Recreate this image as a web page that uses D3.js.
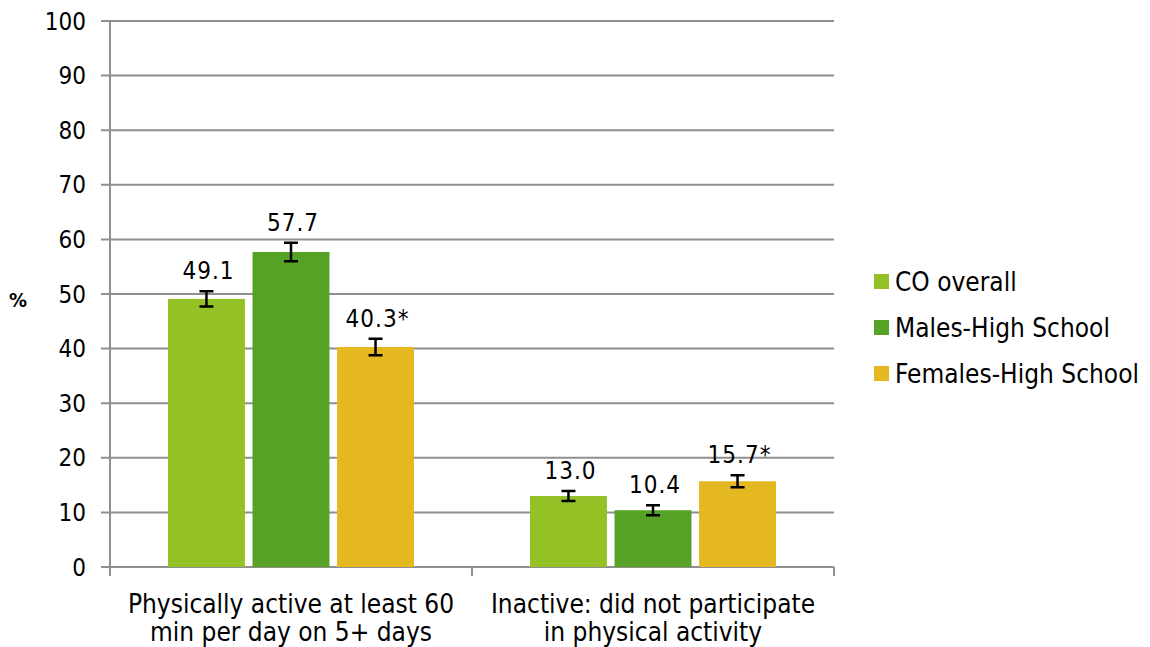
<!DOCTYPE html>
<html>
<head>
<meta charset="utf-8">
<script src="https://cdn.jsdelivr.net/npm/d3@7"></script>
<style>
  body { margin: 0; background: #fff; }
  text { font-family: "DejaVu Sans Condensed", "DejaVu Sans", sans-serif; fill: #000; }
</style>
</head>
<body>
<div id="chartDiv"></div>
<script>
// data
var categories = [["Physically active at least 60", "min per day on 5+ days"],
                  ["Inactive: did not participate", "in physical activity"]];
var series = ["CO overall", "Males-High School", "Females-High School"];
var values = [[49.1, 57.7, 40.3], [13.0, 10.4, 15.7]];
var errors = [[1.4, 1.7, 1.5], [0.9, 0.9, 1.1]];
var labels = [["49.1", "57.7", "40.3*"], ["13.0", "10.4", "15.7*"]];
var yTicks = [0, 10, 20, 30, 40, 50, 60, 70, 80, 90, 100];
var colors = ["#93c126", "#56a224", "#e5b720"];

var svg = d3.select("#chartDiv").append("svg")
    .attr("width", 1150)
    .attr("height", 647);

var margin = {top: 21, left: 110, right: 834, bottom: 567};

var x0 = d3.scaleBand()
    .domain(d3.range(categories.length))
    .range([margin.left, margin.right])
    .paddingInner(0).paddingOuter(0);

var x1 = d3.scaleBand()
    .domain(d3.range(series.length))
    .range([58, x0.bandwidth() - 58])
    .paddingInner(0.09);

var y = d3.scaleLinear()
    .domain([0, 100])
    .range([margin.bottom, margin.top]);

var gridColor = "#8f8f8f";

// gridlines
svg.append("g").selectAll("line").data(yTicks).enter()
    .append("line")
    .attr("x1", margin.left - 9)
    .attr("x2", margin.right)
    .attr("y1", function(d){ return y(d); })
    .attr("y2", function(d){ return y(d); })
    .style("stroke", gridColor)
    .style("stroke-width", 2);

// y axis line
svg.append("line")
    .attr("x1", margin.left).attr("x2", margin.left)
    .attr("y1", y(100)).attr("y2", y(0))
    .style("stroke", gridColor).style("stroke-width", 2);

// x axis ticks
var xTickPos = d3.range(categories.length + 1).map(function(i){ return margin.left + i * x0.bandwidth(); });
svg.append("g").selectAll("line").data(xTickPos).enter()
    .append("line")
    .attr("x1", function(d){ return d; })
    .attr("x2", function(d){ return d; })
    .attr("y1", y(0)).attr("y2", y(0) + 9)
    .style("stroke", gridColor).style("stroke-width", 2);

// y tick labels
svg.append("g").selectAll("text").data(yTicks).enter()
    .append("text")
    .attr("x", margin.left - 24)
    .attr("y", function(d){ return y(d); })
    .attr("dy", "0.36em")
    .attr("text-anchor", "end")
    .style("font-size", "24px")
    .text(function(d){ return d; });

svg.append("text")
    .attr("x", 18).attr("y", 300)
    .attr("dy", "0.36em")
    .attr("text-anchor", "middle")
    .style("font-size", "20px")
    .style("font-weight", "bold")
    .text("%");

// bars
var groups = svg.append("g").selectAll("g").data(values).enter()
    .append("g")
    .attr("transform", function(d, i){ return "translate(" + x0(i) + ",0)"; });

groups.selectAll("rect").data(function(d){ return d; }).enter()
    .append("rect")
    .attr("x", function(d, j){ return x1(j); })
    .attr("y", function(d){ return y(d); })
    .attr("width", x1.bandwidth())
    .attr("height", function(d){ return y(0) - y(d); })
    .attr("fill", function(d, j){ return colors[j]; });

// error bars
groups.each(function(d, i){
  var g = d3.select(this);
  d.forEach(function(v, j){
    var cx = x1(j) + x1.bandwidth() / 2;
    var e = errors[i][j];
    g.append("path")
      .attr("d", "M" + (cx - 7) + "," + y(v + e) + "H" + (cx + 7) +
                 "M" + cx + "," + y(v + e) + "V" + y(v - e) +
                 "M" + (cx - 7) + "," + y(v - e) + "H" + (cx + 7))
      .style("stroke", "#000").style("stroke-width", 2.5).style("fill", "none");
    g.append("text")
      .attr("x", cx + 2)
      .attr("y", y(v + e) - 12)
      .attr("text-anchor", "middle")
      .style("font-size", "24px")
      .style("letter-spacing", "1px")
      .text(labels[i][j]);
  });
});

// category labels
svg.append("g").selectAll("text").data(categories).enter()
    .append("text")
    .attr("x", function(d, i){ return x0(i) + x0.bandwidth() / 2; })
    .attr("y", 613)
    .attr("text-anchor", "middle")
    .style("font-size", "26px")
    .each(function(d){
      var t = d3.select(this);
      d.forEach(function(line, k){
        t.append("tspan")
          .attr("x", t.attr("x"))
          .attr("dy", k === 0 ? 0 : 28)
          .text(line);
      });
    });

// legend
var legend = svg.append("g").selectAll("g").data(series).enter()
    .append("g")
    .attr("transform", function(d, i){ return "translate(874," + (282 + i * 46) + ")"; });

legend.append("rect")
    .attr("x", 0).attr("y", -8)
    .attr("width", 15).attr("height", 15)
    .attr("fill", function(d, i){ return colors[i]; });

legend.append("text")
    .attr("x", 21).attr("y", 0)
    .attr("dy", "0.36em")
    .style("font-size", "26px")
    .text(function(d){ return d; });
</script>
</body>
</html>
